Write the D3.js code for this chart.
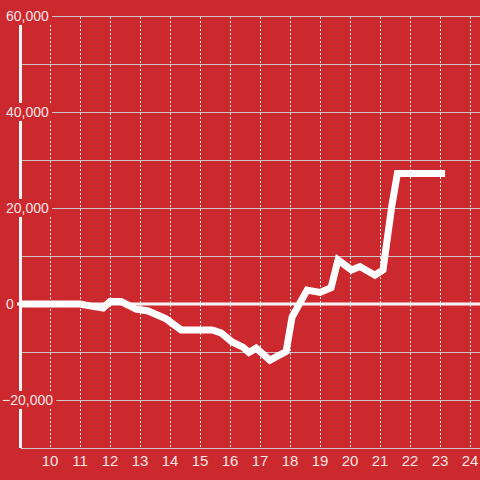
<!DOCTYPE html>
<html><head><meta charset="utf-8">
<script src="https://cdn.jsdelivr.net/npm/d3@7"></script>
<style>html,body{margin:0;padding:0;background:#cc292e;}svg{display:block;}</style>
</head><body>
<script>
const hours  = [9, 11, 11.33, 11.77, 12.0, 12.37, 12.87, 13.27, 13.87, 14.37, 15.4, 15.7, 16.07, 16.43, 16.63, 16.87, 17.33, 17.87, 18.07, 18.57, 19.0, 19.37, 19.6, 20.05, 20.33, 20.83, 21.1, 21.39, 21.58, 23.17];
const values = [0, 0, -400, -850, 500, 500, -1050, -1450, -3100, -5400, -5400, -6000, -7900, -9000, -10100, -9200, -11700, -9900, -2700, 2900, 2400, 3400, 9200, 7100, 7800, 6000, 7100, 20300, 27200, 27200];
const xTicks = [10, 11, 12, 13, 14, 15, 16, 17, 18, 19, 20, 21, 22, 23, 24];
const yGrid  = [-30000, -20000, -10000, 0, 10000, 20000, 30000, 40000, 50000, 60000];
const yLabels = [60000, 40000, 20000, 0, -20000];

const W = 480, H = 480, BG = "#cc292e";
const svg = d3.select("body").append("svg").attr("width", W).attr("height", H);
svg.append("rect").attr("width", W).attr("height", H).attr("fill", BG);

const x = d3.scaleLinear().domain([9, 24.333]).range([20, 480]);
const y = d3.scaleLinear().domain([-30000, 60000]).range([448, 16]);

// horizontal grid
svg.append("g").selectAll("line").data(yGrid.filter(d => d !== 0)).join("line")
  .attr("x1", 21).attr("x2", W).attr("y1", d => y(d) + 0.5).attr("y2", d => y(d) + 0.5)
  .attr("stroke", "#c8c8c8").attr("stroke-width", 1);

// vertical dotted grid
svg.append("g").selectAll("line").data(xTicks).join("line")
  .attr("x1", d => Math.round(x(d)) + 0.5).attr("x2", d => Math.round(x(d)) + 0.5)
  .attr("y1", y(60000) + 1).attr("y2", y(-30000))
  .attr("stroke", "#f0f0f0").attr("stroke-width", 1).attr("stroke-dasharray", "2,2");

// y axis line
svg.append("line").attr("x1", 20.5).attr("x2", 20.5).attr("y1", 18).attr("y2", 448)
  .attr("stroke", "#f5f5f5").attr("stroke-width", 3);

// y labels with background
const yl = svg.append("g").selectAll("g").data(yLabels).join("g");
const fmt = d3.format(",");
yl.append("text")
  .attr("x", d => d < 0 ? 2 : 6).attr("y", d => y(d)).attr("dy", "0.35em")
  .attr("font-family", "Liberation Sans, Arial, sans-serif").attr("font-size", 14)
  .attr("fill", "#f6e4e4").text(d => fmt(d));
yl.each(function() {
  const t = d3.select(this).select("text");
  const b = t.node().getBBox();
  d3.select(this).insert("rect", "text")
    .attr("x", b.x - 3).attr("y", b.y - 1).attr("width", b.width + 6).attr("height", b.height + 2)
    .attr("fill", BG);
});

// zero line
svg.append("line").attr("x1", 17).attr("x2", W).attr("y1", y(0)).attr("y2", y(0))
  .attr("stroke", "#f5f5f5").attr("stroke-width", 3);

// bottom line
svg.append("line").attr("x1", 21).attr("x2", W).attr("y1", 448.5).attr("y2", 448.5)
  .attr("stroke", "#c8c8c8").attr("stroke-width", 1);

// x labels
svg.append("g").selectAll("text").data(xTicks).join("text")
  .attr("x", d => x(d)).attr("y", 461).attr("dy", "0.35em").attr("text-anchor", "middle")
  .attr("font-family", "Liberation Sans, Arial, sans-serif").attr("font-size", 15)
  .attr("fill", "#f6e4e4").text(d => d);

// data line
const pts = hours.map((h, i) => [h, values[i]]);
svg.append("path").datum(pts)
  .attr("d", d3.line().x(d => x(d[0])).y(d => y(d[1])))
  .attr("fill", "none").attr("stroke", "#ffffff").attr("stroke-width", 7)
  .attr("stroke-linejoin", "miter");
</script>
</body></html>
